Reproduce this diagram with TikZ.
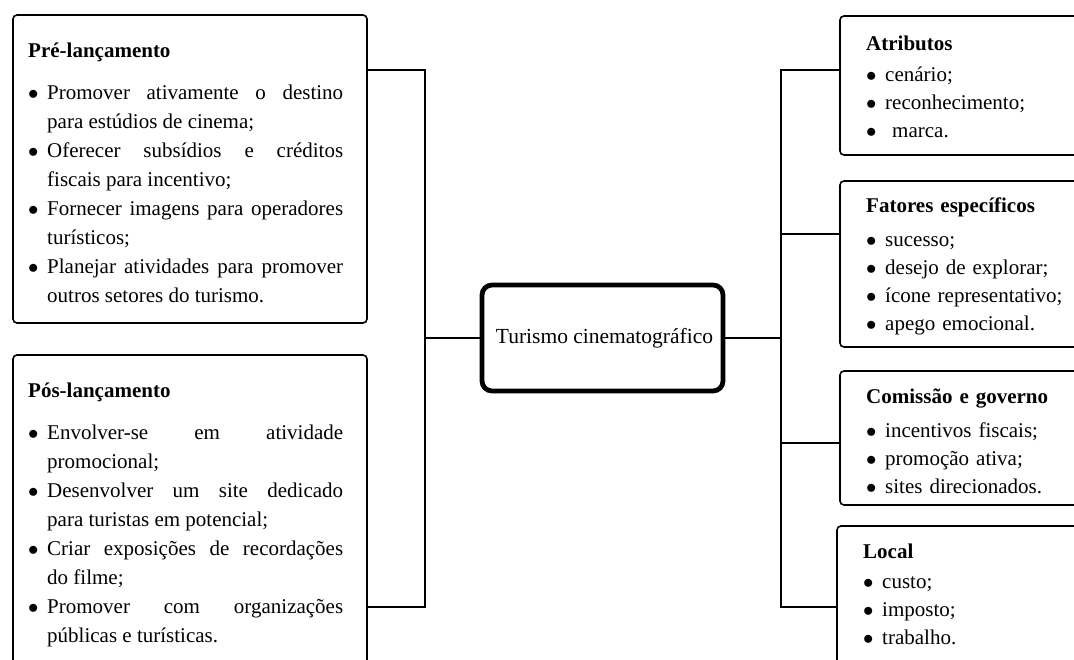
\documentclass[tikz,border=0pt]{standalone}
\usepackage{fontspec}
\setmainfont{Liberation Serif}
\hyphenpenalty=10000
\exhyphenpenalty=10000

% marcadores das listas
\newcommand{\topico}{\par\noindent\hangindent=19pt\hangafter=1\makebox[19pt][l]{$\bullet$}}
\newcommand{\titulo}[2][13pt]{\strut\textbf{#2}\par\vspace{#1}}

\tikzset{
  caixa/.style={draw, line width=1.6pt, rounded corners=4pt, inner sep=0pt, outer sep=0pt, anchor=north west},
  centro/.style={draw, line width=4.8pt, rounded corners=10pt, minimum width=241pt, minimum height=106pt, font=\fontsize{21.5}{25}\selectfont},
  texto/.style={anchor=north west, inner sep=0pt, text width=315pt, align=justify, font=\fontsize{21}{29}\selectfont},
  lista/.style={anchor=north west, inner sep=0pt, text width=200pt, align=left, font=\fontsize{21}{28}\selectfont},
  ligacao/.style={line width=2.8pt},
}

\begin{document}
\begin{tikzpicture}[x=1pt, y=-1pt]

    \useasboundingbox (0,0) rectangle (1074,660);
    \clip (0,0) rectangle (1074,660);

    % Caixas da esquerda
    \node[caixa, minimum width=354pt, minimum height=308pt] (pre) at (13,15) {};
    \node[caixa, minimum width=354pt, minimum height=400pt] (pos) at (13,355) {};

    \node[texto] (pretxt) at (28,36.7) {\titulo{Pré-lançamento}
        \topico Promover ativamente o destino\linebreak para estúdios de cinema;
        \topico Oferecer subsídios e créditos\linebreak fiscais para incentivo;
        \topico Fornecer imagens para operadores\linebreak turísticos;
        \topico Planejar atividades para promover\linebreak outros setores do turismo.\par};
    \node[texto] (postxt) at (28,376.7) {\titulo{Pós-lançamento}
        \topico Envolver-se em atividade\linebreak promocional;
        \topico Desenvolver um site dedicado\linebreak para turistas em potencial;
        \topico Criar exposições de recordações\linebreak do filme;
        \topico Promover com organizações\linebreak públicas e turísticas.\par};

    % Nodo central
    \node[centro] (tur) at (602.5,338) {\hspace{4pt}Turismo cinematográfico};

    % Caixas da direita
    \node[caixa, minimum width=300pt, minimum height=139pt] (atr) at (840,16) {};
    \node[caixa, minimum width=300pt, minimum height=166pt] (fat) at (840,181) {};
    \node[caixa, minimum width=300pt, minimum height=134pt] (com) at (840,371) {};
    \node[caixa, minimum width=300pt, minimum height=200pt] (loc) at (837,526) {};

    \node[lista] (atrtxt) at (866,30.4) {\titulo[3pt]{Atributos}
        \topico cenário;
        \topico reconhecimento;
        \topico\ marca.\par};
    \node[lista] (fattxt) at (866,192.4) {\titulo[6pt]{Fatores específicos}
        \topico sucesso;
        \topico desejo de explorar;
        \topico ícone representativo;
        \topico apego emocional.\par};
    \node[lista] (comtxt) at (866,383.4) {\titulo[6pt]{Comissão e governo}
        \topico incentivos fiscais;
        \topico promoção ativa;
        \topico sites direcionados.\par};
    \node[lista] (loctxt) at (863,538.4) {\titulo[2pt]{Local}
        \topico custo;
        \topico imposto;
        \topico trabalho.\par};

    % Pontos de junção
    \coordinate (e1) at (425,70);
    \coordinate (e2) at (425,607);
    \coordinate (em) at (425,338);
    \coordinate (d1) at (781,70);
    \coordinate (d2) at (781,607);
    \coordinate (dm) at (781,338);
    \coordinate (d3) at (781,234);
    \coordinate (d4) at (781,443);

    % Ligações da esquerda
    \draw[ligacao] (pre.east |- e1) -- (e1) -- (e2) -- (pos.east |- e2);
    \draw[ligacao] (em) -- (tur.west);

    % Ligações da direita
    \draw[ligacao] (tur.east) -- (dm);
    \draw[ligacao] (atr.west |- d1) -- (d1) -- (d2) -- (loc.west |- d2);
    \draw[ligacao] (d3) -- (fat.west |- d3);
    \draw[ligacao] (d4) -- (com.west |- d4);

\end{tikzpicture}
\end{document}
